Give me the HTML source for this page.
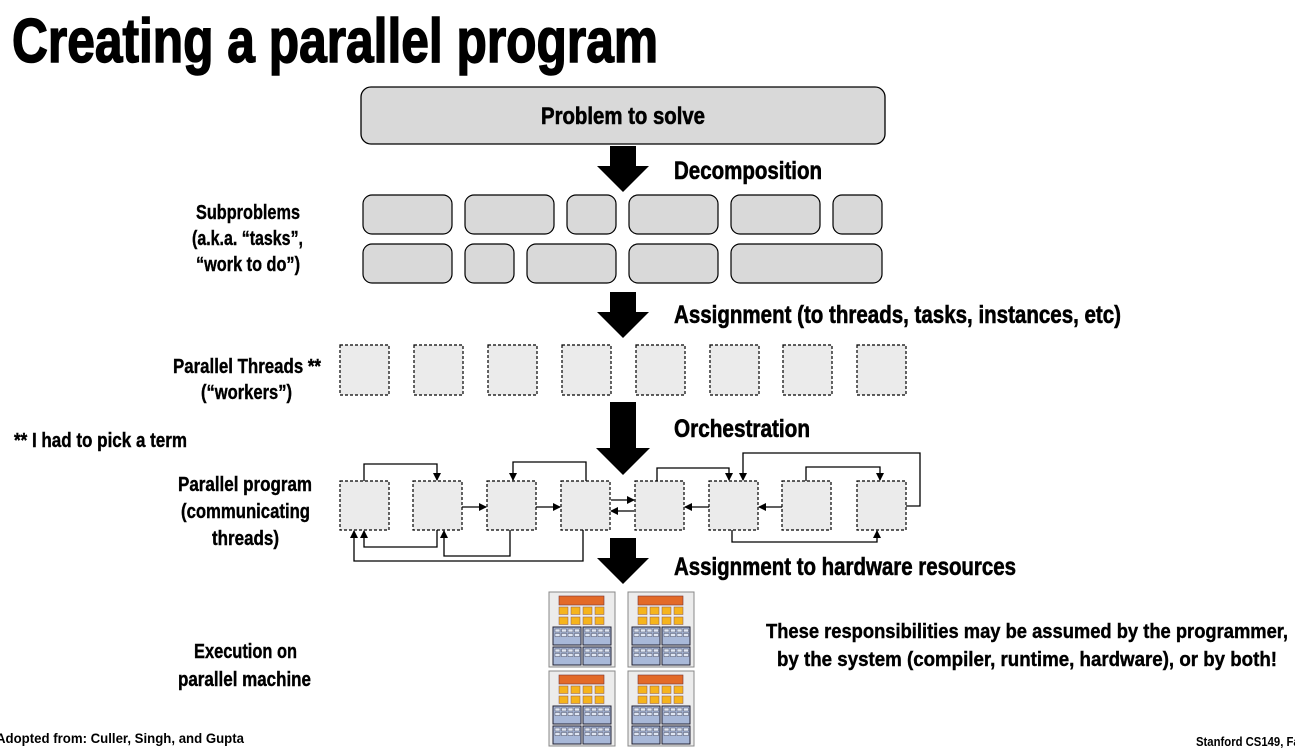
<!DOCTYPE html>
<html><head><meta charset="utf-8"><style>
html,body{margin:0;padding:0;background:#fff;}
svg{display:block;}
text{font-family:"Liberation Sans",sans-serif;font-weight:bold;fill:#000;}
</style></head><body>
<svg width="1295" height="748" viewBox="0 0 1295 748" xmlns="http://www.w3.org/2000/svg">
<defs>
<marker id="ah" markerWidth="8" markerHeight="8" refX="7" refY="4" orient="auto" markerUnits="userSpaceOnUse">
<path d="M0,0 L8,4 L0,8 z" fill="#000"/></marker>
<g id="big"><polygon points="-13,0 13,0 13,20 26,20 0,46 -26,20 -13,20" fill="#000"/></g>
<g id="blue">
<rect x="0" y="0" width="28" height="18" fill="#a8b8d8" stroke="#223" stroke-width="1"/>
<g fill="#dfe6f3" stroke="#334" stroke-width="0.4">
<rect x="2" y="2" width="5" height="3"/><rect x="8.5" y="2" width="5" height="3"/><rect x="15" y="2" width="5" height="3"/><rect x="21.5" y="2" width="5" height="3"/>
<rect x="2" y="6.5" width="5" height="3"/><rect x="8.5" y="6.5" width="5" height="3"/><rect x="15" y="6.5" width="5" height="3"/><rect x="21.5" y="6.5" width="5" height="3"/>
</g></g>
<g id="chip">
<rect x="0" y="0" width="66" height="75" fill="#ececec" stroke="#888" stroke-width="1"/>
<rect x="10" y="4" width="45" height="9" fill="#e36a28" stroke="#733" stroke-width="0.6"/>
<g fill="#f6b41c" stroke="#855" stroke-width="0.5">
<rect x="10" y="15" width="9" height="7.5"/><rect x="22" y="15" width="9" height="7.5"/><rect x="34" y="15" width="9" height="7.5"/><rect x="46" y="15" width="9" height="7.5"/>
<rect x="10" y="25" width="9" height="7.5"/><rect x="22" y="25" width="9" height="7.5"/><rect x="34" y="25" width="9" height="7.5"/><rect x="46" y="25" width="9" height="7.5"/>
</g>
<use href="#blue" x="4" y="35"/><use href="#blue" x="34" y="35"/>
<use href="#blue" x="4" y="55"/><use href="#blue" x="34" y="55"/>
</g>
</defs>

<text x="12" y="62" font-size="62" textLength="646" lengthAdjust="spacingAndGlyphs" stroke="#000" stroke-width="1.5">Creating a parallel program</text>

<rect x="361" y="87" width="524" height="57" rx="10" fill="#d9d9d9" stroke="#000" stroke-width="1.3"/>
<text x="623" y="124" font-size="24" text-anchor="middle" textLength="164" lengthAdjust="spacingAndGlyphs" stroke="#000" stroke-width="0.6">Problem to solve</text>

<use href="#big" x="623" y="146"/>
<use href="#big" x="623" y="292"/>
<g><polygon points="610,402 636,402 636,448 650,448 623,475 596,448 610,448" fill="#000"/></g>
<use href="#big" x="623" y="538"/>

<g stroke="#000" stroke-width="0.6">
<text x="674" y="179" font-size="25" textLength="148" lengthAdjust="spacingAndGlyphs">Decomposition</text>
<text x="674" y="323" font-size="25" textLength="447" lengthAdjust="spacingAndGlyphs">Assignment (to threads, tasks, instances, etc)</text>
<text x="674" y="437" font-size="25" textLength="136" lengthAdjust="spacingAndGlyphs">Orchestration</text>
<text x="674" y="575" font-size="25" textLength="342" lengthAdjust="spacingAndGlyphs">Assignment to hardware resources</text>
</g>

<g fill="#d9d9d9" stroke="#000" stroke-width="1.2">
<rect x="363" y="195" width="89" height="39" rx="9"/><rect x="465" y="195" width="89" height="39" rx="9"/>
<rect x="567" y="195" width="49" height="39" rx="9"/><rect x="629" y="195" width="89" height="39" rx="9"/>
<rect x="731" y="195" width="89" height="39" rx="9"/><rect x="833" y="195" width="49" height="39" rx="9"/>
<rect x="363" y="244" width="89" height="39" rx="9"/><rect x="465" y="244" width="49" height="39" rx="9"/>
<rect x="527" y="244" width="89" height="39" rx="9"/><rect x="629" y="244" width="89" height="39" rx="9"/>
<rect x="731" y="244" width="151" height="39" rx="9"/>
</g>

<g fill="#ebebeb" stroke="#000" stroke-width="1.2" stroke-dasharray="3,2">
<rect x="340" y="345" width="49" height="50"/><rect x="414" y="345" width="49" height="50"/>
<rect x="488" y="345" width="49" height="50"/><rect x="562" y="345" width="49" height="50"/>
<rect x="636" y="345" width="49" height="50"/><rect x="710" y="345" width="49" height="50"/>
<rect x="783" y="345" width="49" height="50"/><rect x="857" y="345" width="49" height="50"/>
<rect x="340" y="481" width="49" height="49"/><rect x="413" y="481" width="49" height="49"/>
<rect x="487" y="481" width="49" height="49"/><rect x="561" y="481" width="49" height="49"/>
<rect x="635" y="481" width="49" height="49"/><rect x="709" y="481" width="49" height="49"/>
<rect x="782" y="481" width="49" height="49"/><rect x="857" y="481" width="49" height="49"/>
</g>

<g fill="none" stroke="#000" stroke-width="1.3" marker-end="url(#ah)">
<polyline points="364,481 364,464 437,464 437,480"/>
<polyline points="586,481 586,462 513,462 513,480"/>
<polyline points="657,481 657,468 729,468 729,480"/>
<polyline points="906,506 920,506 920,453 743,453 743,480"/>
<polyline points="806,481 806,467 880,467 880,480"/>
<line x1="462" y1="507" x2="486" y2="507"/>
<line x1="536" y1="507" x2="560" y2="507"/>
<line x1="611" y1="500" x2="634" y2="500"/>
<line x1="634" y1="511" x2="611" y2="511"/>
<line x1="709" y1="507" x2="685" y2="507"/>
<line x1="782" y1="507" x2="759" y2="507"/>
<polyline points="437,530 437,547 364,547 364,531"/>
<polyline points="510,530 510,556 444,556 444,531"/>
<polyline points="583,530 583,561 354,561 354,531"/>
<polyline points="732,530 732,542 877,542 877,531"/>
</g>

<g font-size="20" stroke="#000" stroke-width="0.4">
<text x="196" y="219" textLength="104" lengthAdjust="spacingAndGlyphs">Subproblems</text>
<text x="192" y="245" textLength="111" lengthAdjust="spacingAndGlyphs">(a.k.a. “tasks”,</text>
<text x="196" y="271" textLength="104" lengthAdjust="spacingAndGlyphs">“work to do”)</text>
<text x="173" y="373" textLength="148" lengthAdjust="spacingAndGlyphs">Parallel Threads **</text>
<text x="201" y="399" textLength="91" lengthAdjust="spacingAndGlyphs">(“workers”)</text>
<text x="14" y="447" textLength="173" lengthAdjust="spacingAndGlyphs">** I had to pick a term</text>
<text x="178" y="491" textLength="134" lengthAdjust="spacingAndGlyphs">Parallel program</text>
<text x="181" y="518" textLength="129" lengthAdjust="spacingAndGlyphs">(communicating</text>
<text x="212" y="545" textLength="67" lengthAdjust="spacingAndGlyphs">threads)</text>
<text x="194" y="658" textLength="103" lengthAdjust="spacingAndGlyphs">Execution on</text>
<text x="178" y="686" textLength="133" lengthAdjust="spacingAndGlyphs">parallel machine</text>
</g>

<use href="#chip" x="549" y="592"/><use href="#chip" x="628" y="592"/>
<use href="#chip" x="549" y="671"/><use href="#chip" x="628" y="671"/>

<g stroke="#000" stroke-width="0.4">
<text x="1027" y="638" font-size="20" text-anchor="middle" textLength="522" lengthAdjust="spacingAndGlyphs">These responsibilities may be assumed by the programmer,</text>
<text x="1027" y="666" font-size="20" text-anchor="middle" textLength="500" lengthAdjust="spacingAndGlyphs">by the system (compiler, runtime, hardware), or by both!</text>
</g>

<text x="-4" y="743" font-size="14" textLength="248" lengthAdjust="spacingAndGlyphs">Adopted from: Culler, Singh, and Gupta</text>
<text x="1196" y="746" font-size="13" textLength="110" lengthAdjust="spacingAndGlyphs">Stanford CS149, Fall</text>
</svg>
</body></html>
